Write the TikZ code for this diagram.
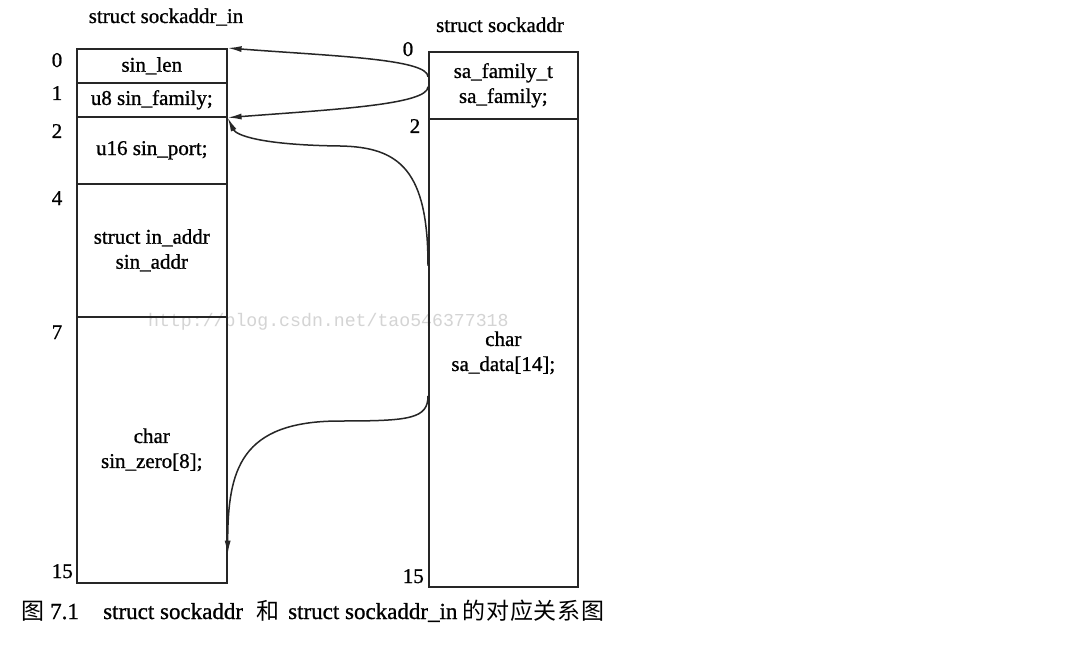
\documentclass[tikz,border=0pt]{standalone}
\usepackage{fontspec}
\setmainfont{Liberation Serif}[FakeBold=0.9]
\setmonofont{Liberation Mono}
\newfontfamily\cjk{Noto Sans CJK SC}
\usetikzlibrary{arrows.meta}
\begin{document}
\begin{tikzpicture}[x=1pt,y=-1pt,
  cell/.style={draw=black!85, line width=1.6pt, rectangle, inner sep=0pt,
    anchor=north west, align=center, font=\fontsize{21}{25}\selectfont},
  lbl/.style={font=\fontsize{21}{25}\selectfont, inner sep=0pt, anchor=base},
  conn/.style={draw=black!85, line width=1.5pt, -{Latex[length=14pt,width=6pt]}},
  wmark/.style={font=\ttfamily\fontsize{18.2}{20}\selectfont, text=black!17, inner sep=0pt, anchor=base west}]
\useasboundingbox (0,0) rectangle (1078,655);
\fill[white] (0,0) rectangle (1078,655);

% watermark
\node[wmark] (wm) at (148,326) {http://blog.csdn.net/tao546377318};

% titles
\node[lbl] (tin) at (166,23) {struct sockaddr\_in};
\node[lbl] (tsa) at (500,32) {struct sockaddr};

% left structure: struct sockaddr_in
\node[cell, minimum width=150pt, minimum height=34pt] (lenC) at (76,48) {sin\_len};
\node[cell, minimum width=150pt, minimum height=34pt] (famC) at (76,82) {u8 sin\_family;};
\node[cell, minimum width=150pt, minimum height=67pt] (portC) at (76,116) {u16 sin\_port;};
\node[cell, minimum width=150pt, minimum height=133pt] (addrC) at (76,183) {struct in\_addr\\sin\_addr};
\node[cell, minimum width=150pt, minimum height=266pt] (zeroC) at (76,316) {char\\sin\_zero[8];};

% right structure: struct sockaddr
\node[cell, minimum width=149pt, minimum height=67pt] (safamC) at (428,51) {sa\_family\_t\\sa\_family;};
\node[cell, minimum width=149pt, minimum height=468pt] (sadataC) at (428,118) {char\\sa\_data[14];};

% offsets
\node[lbl] (oL0) at (57,67) {0};
\node[lbl] (oL1) at (57,100) {1};
\node[lbl] (oL2) at (57,138) {2};
\node[lbl] (oL4) at (57,205) {4};
\node[lbl] (oL7) at (57,339) {7};
\node[lbl, anchor=base east] (oL15) at (73,578) {15};
\node[lbl] (oR0) at (408,56) {0};
\node[lbl] (oR2) at (415,133) {2};
\node[lbl, anchor=base east] (oR15) at (424,583) {15};

% connectors
\draw[conn] ([yshift=8.5pt]safamC.west) .. controls +(0,-18) and +(104,8) .. (lenC.north east);
\draw[conn] ([yshift=-1.5pt]safamC.west) .. controls +(0,18) and +(104,-8) .. (famC.south east);
\draw[conn] ([yshift=87pt]sadataC.west) .. controls +(0,-95) and (400,147) .. (340,146)
  .. controls (260,145) and (236,135) .. (famC.south east);
\draw[conn] ([yshift=-43pt]sadataC.west) .. controls +(0,23) and (410,421) .. (340,421)
  .. controls (240,421) and (228,470) .. ([yshift=29pt]zeroC.south east);

% caption
\node[inner sep=0pt, anchor=base west, font=\fontsize{23}{26}\selectfont] (cap) at (21,619)
  {\makebox[82pt][l]{\makebox[29pt][l]{\cjk\fontsize{23}{26}\selectfont 图}7.1}%
   \makebox[153pt][l]{struct sockaddr}%
   \makebox[32pt][l]{\cjk\fontsize{23}{26}\selectfont 和}%
   \makebox[174pt][l]{struct sockaddr\_in}%
   {\cjk\fontsize{23}{26}\selectfont\addfontfeature{LetterSpace=4}的对应关系图}};
\end{tikzpicture}
\end{document}
